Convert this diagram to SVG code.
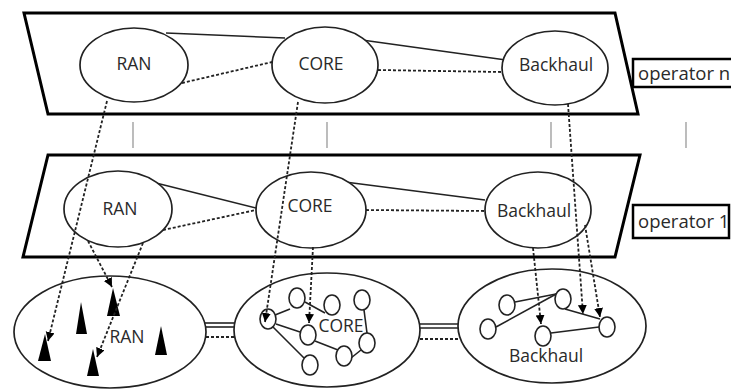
<svg xmlns="http://www.w3.org/2000/svg" width="731" height="390" viewBox="0 0 731 390">
<style>
.plane{fill:#fff;stroke:#000;stroke-width:3;stroke-linejoin:miter}
.node{fill:#fff;stroke:#222;stroke-width:1.7}
.sub{fill:#fff;stroke:#222;stroke-width:1.6}
.lbl{font-family:"Open Sans","Liberation Sans",sans-serif;font-size:17.5px;fill:#2a2a2a;text-anchor:middle}
.op{font-family:"Open Sans","Liberation Sans",sans-serif;font-size:18.5px;fill:#2a2a2a}
.solid{stroke:#222;stroke-width:1.6;fill:none}
.dash{stroke:#222;stroke-width:1.8;fill:none;stroke-dasharray:3 2}
.sep{stroke:#999;stroke-width:1.3}
.tri{fill:#000}
.box{fill:#fff;stroke:#000;stroke-width:2.5}
</style>
<defs>
<marker id="ah" markerUnits="userSpaceOnUse" markerWidth="10" markerHeight="10" refX="9" refY="4.5" orient="auto">
<path d="M0,0 L9,4.5 L0,9 z" fill="#000"/>
</marker>
</defs>

<g id="operator-n-plane">
<polygon class="plane" points="24,13 615,13 638,114 48,114"/>
</g>
<g id="operator-n-label">
<rect class="box" x="633" y="59" width="110" height="28"/>
<text class="op" x="638" y="80">operator n</text>
</g>
<g id="operator-1-plane">
<polygon class="plane" points="48,155 640,155 615,257 23,257"/>
</g>
<g id="operator-1-label">
<rect class="box" x="633" y="205" width="96" height="33"/>
<text class="op" x="638" y="228">operator 1</text>
</g>

<g id="separators">
<line class="sep" x1="133" y1="122" x2="133" y2="148"/>
<line class="sep" x1="327" y1="122" x2="327" y2="148"/>
<line class="sep" x1="551" y1="122" x2="551" y2="148"/>
<line class="sep" x1="686" y1="122" x2="686" y2="148"/>
</g>

<g id="connectors">
<line class="solid" x1="166" y1="33" x2="285" y2="38"/>
<line class="dash" x1="182" y1="83" x2="272" y2="62"/>
<line class="solid" x1="362" y1="40" x2="506" y2="60"/>
<line class="dash" x1="378" y1="70" x2="501" y2="72"/>
<line class="solid" x1="156" y1="183" x2="256" y2="208"/>
<line class="dash" x1="163" y1="230" x2="256" y2="210"/>
<line class="solid" x1="345" y1="182" x2="485" y2="200"/>
<line class="dash" x1="366" y1="210" x2="485" y2="211"/>
<line class="solid" x1="205" y1="323" x2="234" y2="323"/>
<line class="solid" x1="205" y1="327" x2="234" y2="327"/>
<line class="dash" x1="206" y1="337" x2="234" y2="337"/>
<line class="solid" x1="419" y1="324" x2="459" y2="324"/>
<line class="solid" x1="419" y1="328" x2="459" y2="328"/>
<line class="dash" x1="420" y1="339" x2="459" y2="339"/>
</g>

<g id="top-ran"><ellipse class="node" cx="134" cy="65" rx="54" ry="37"/><text class="lbl" x="134" y="70">RAN</text></g>
<g id="top-core"><ellipse class="node" cx="325" cy="65" rx="53" ry="38"/><text class="lbl" x="321" y="70">CORE</text></g>
<g id="top-backhaul"><ellipse class="node" cx="555" cy="68" rx="53" ry="37"/><text class="lbl" x="556" y="71">Backhaul</text></g>

<g id="mid-ran"><ellipse class="node" cx="118" cy="209" rx="54" ry="38"/><text class="lbl" x="120" y="215">RAN</text></g>
<g id="mid-core"><ellipse class="node" cx="311" cy="210" rx="55" ry="38"/><text class="lbl" x="310" y="212">CORE</text></g>
<g id="mid-backhaul"><ellipse class="node" cx="538" cy="210" rx="53" ry="38"/><text class="lbl" x="534" y="217">Backhaul</text></g>

<g id="bottom-ran">
<ellipse class="node" cx="110" cy="332" rx="96" ry="56"/>
<polygon class="tri" points="45,334 51,361 38,361"/>
<polygon class="tri" points="81,302 87,334 76,334"/>
<polygon class="tri" points="113,288 120,316 107,316"/>
<polygon class="tri" points="93,349 99,376 87,376"/>
<polygon class="tri" points="161,326 167,355 155,355"/>
<text class="lbl" x="127" y="343">RAN</text>
</g>

<g id="bottom-core">
<ellipse class="node" cx="327" cy="330" rx="93" ry="57"/>
<g class="solid">
<line x1="275" y1="315" x2="290" y2="309"/>
<line x1="276" y1="324" x2="300" y2="332"/>
<line x1="273" y1="327" x2="304" y2="358"/>
<line x1="305" y1="302" x2="325" y2="313"/>
<line x1="364" y1="310" x2="367" y2="333"/>
<line x1="315" y1="341" x2="338" y2="350"/>
<line x1="351" y1="358" x2="361" y2="350"/>
</g>
<ellipse class="sub" cx="268" cy="319" rx="8" ry="10"/>
<ellipse class="sub" cx="297" cy="298" rx="8" ry="10"/>
<ellipse class="sub" cx="332" cy="305" rx="8" ry="10"/>
<ellipse class="sub" cx="362" cy="300" rx="8" ry="10"/>
<ellipse class="sub" cx="308" cy="335" rx="8" ry="10"/>
<ellipse class="sub" cx="367" cy="343" rx="8" ry="10"/>
<ellipse class="sub" cx="344" cy="356" rx="8" ry="10"/>
<ellipse class="sub" cx="310" cy="365" rx="8" ry="10"/>
<text class="lbl" x="341" y="332">CORE</text>
</g>

<g id="bottom-backhaul">
<ellipse class="node" cx="552" cy="326" rx="94" ry="57"/>
<g class="solid">
<line x1="515" y1="302" x2="556" y2="294"/>
<line x1="496" y1="327" x2="558" y2="293"/>
<line x1="565" y1="309" x2="600" y2="319"/>
<line x1="551" y1="333" x2="599" y2="327"/>
</g>
<ellipse class="sub" cx="507" cy="305" rx="8" ry="10"/>
<ellipse class="sub" cx="488" cy="329" rx="8" ry="10"/>
<ellipse class="sub" cx="563" cy="299" rx="8" ry="10"/>
<ellipse class="sub" cx="543" cy="336" rx="8" ry="10"/>
<ellipse class="sub" cx="607" cy="327" rx="8" ry="10"/>
<text class="lbl" x="546" y="362">Backhaul</text>
</g>

<g id="mappings">
<line class="dash" x1="107" y1="101" x2="48" y2="341" marker-end="url(#ah)"/>
<line class="dash" x1="298" y1="102" x2="265" y2="322" marker-end="url(#ah)"/>
<line class="dash" x1="568" y1="104" x2="583" y2="314" marker-end="url(#ah)"/>
<line class="dash" x1="88" y1="241" x2="112" y2="287" marker-end="url(#ah)"/>
<line class="dash" x1="143" y1="243" x2="97" y2="357" marker-end="url(#ah)"/>
<line class="dash" x1="313" y1="247" x2="309" y2="323" marker-end="url(#ah)"/>
<line class="dash" x1="533" y1="248" x2="541" y2="324" marker-end="url(#ah)"/>
<line class="dash" x1="585" y1="225" x2="600" y2="317" marker-end="url(#ah)"/>
</g>
</svg>
